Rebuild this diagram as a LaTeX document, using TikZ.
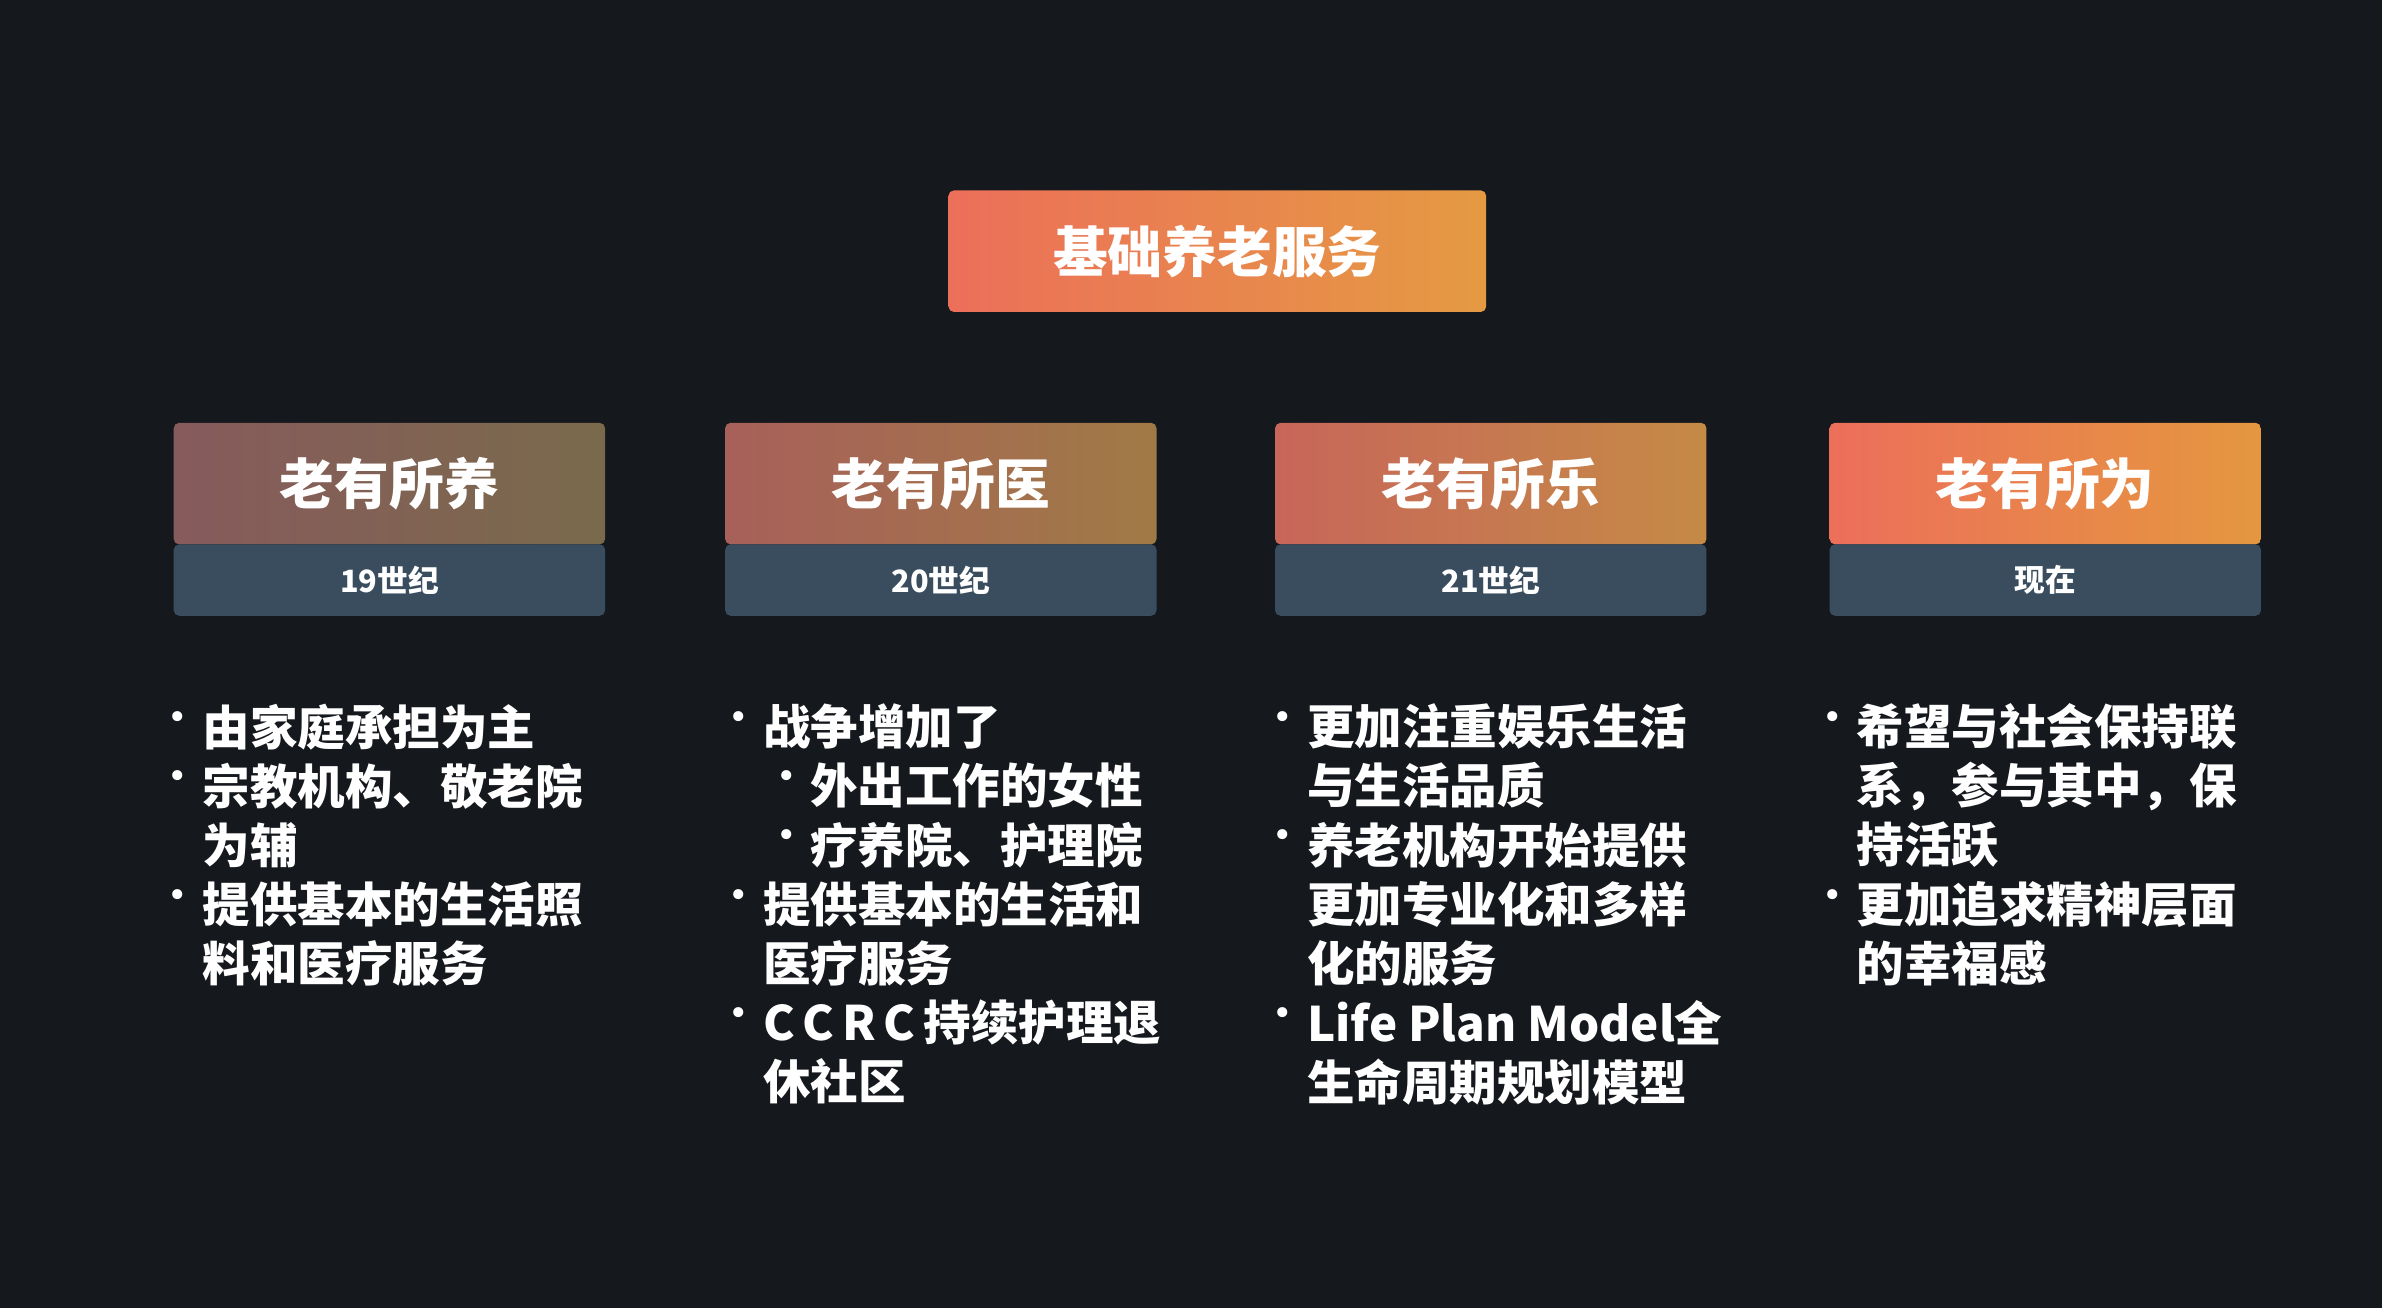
\documentclass[tikz,border=0pt]{standalone}
\usepackage{fontspec}
\setmainfont{Noto Sans CJK SC}
\newfontfamily\symf{DejaVu Sans}
\usetikzlibrary{positioning}

\definecolor{bg}{HTML}{15181D}
\definecolor{band}{HTML}{3A4D5F}

\tikzset{
  card/.style={rounded corners=2pt,shading=axis,shading angle=90,minimum width=5.68cm,
    minimum height=1.6cm,anchor=north west,text=white,font=\bfseries\fontsize{20.5}{24}\selectfont},
  eraband/.style={rounded corners=2pt,fill=band,minimum width=5.68cm,minimum height=0.94cm,
    anchor=north west,text=white,font=\bfseries\fontsize{11.5}{13}\selectfont},
  item/.style={anchor=north west,inner sep=0pt,align=left,text=white,
    font=\bfseries\fontsize{17.8}{22.1}\selectfont},
  dot/.style={anchor=north west,inner sep=0pt,text=white,font=\symf\fontsize{13}{22.1}\selectfont}
}

\begin{document}
\begin{tikzpicture}[x=0.02cm,y=-0.02cm]
\fill[bg] (0,0) rectangle (1568,861);

% title
\node[card,minimum width=7.08cm,left color={rgb,255:red,236;green,111;blue,90},right color={rgb,255:red,229;green,154;blue,66}] (top) at (624,125) {基础养老服务};

% headers
\node[card,left color={rgb,255:red,135;green,90;blue,92},right color={rgb,255:red,122;green,106;blue,76}] (h1) at (114,278) {老有所养};
\node[card,left color={rgb,255:red,168;green,96;blue,90},right color={rgb,255:red,160;green,122;blue,70}] (h2) at (477,278) {老有所医};
\node[card,left color={rgb,255:red,200;green,102;blue,90},right color={rgb,255:red,197;green,138;blue,70}] (h3) at (839,278) {老有所乐};
\node[card,left color={rgb,255:red,236;green,111;blue,90},right color={rgb,255:red,229;green,151;blue,63}] (h4) at (1204,278) {老有所为};

\node[eraband] (e1) at (114,358) {19世纪};
\node[eraband] (e2) at (477,358) {20世纪};
\node[eraband] (e3) at (839,358) {21世纪};
\node[eraband] (e4) at (1204,358) {现在};

% column 1
\node[dot] (d11) at (110,468) {•};
\node[item] (t11) at (133,463) {由家庭承担为主};
\node[dot] (d12) at (110,507) {•};
\node[item] (t12) at (133,502) {宗教机构、敬老院\\为辅};
\node[dot] (d13) at (110,585) {•};
\node[item] (t13) at (133,580) {提供基本的生活照\\料和医疗服务};

% column 2
\node[dot] (d21) at (479,468) {•};
\node[item] (t21) at (502,463) {战争增加了};
\node[dot] (d22) at (511,507) {•};
\node[item] (t22) at (533,502) {外出工作的女性};
\node[dot] (d23) at (511,546) {•};
\node[item] (t23) at (533,541) {疗养院、护理院};
\node[dot] (d24) at (479,585) {•};
\node[item] (t24) at (502,580) {提供基本的生活和\\医疗服务};
\node[dot] (d25) at (479,663) {•};
\node[item] (t25) at (502,658) {C\,C\,R\,C\,持续护理退\\休社区};

% column 3
\node[dot] (d31) at (837,468) {•};
\node[item] (t31) at (860,463) {更加注重娱乐生活\\与生活品质};
\node[dot] (d32) at (837,546) {•};
\node[item] (t32) at (860,541) {养老机构开始提供\\更加专业化和多样\\化的服务};
\node[dot] (d33) at (837,663) {•};
\node[item] (t33) at (860,658) {Life Plan Model全\\生命周期规划模型};

% column 4
\node[dot] (d41) at (1199,468) {•};
\node[item] (t41) at (1222,463) {希望与社会保持联\\系，参与其中，保\\持活跃};
\node[dot] (d42) at (1199,585) {•};
\node[item] (t42) at (1222,580) {更加追求精神层面\\的幸福感};
\end{tikzpicture}
\end{document}
